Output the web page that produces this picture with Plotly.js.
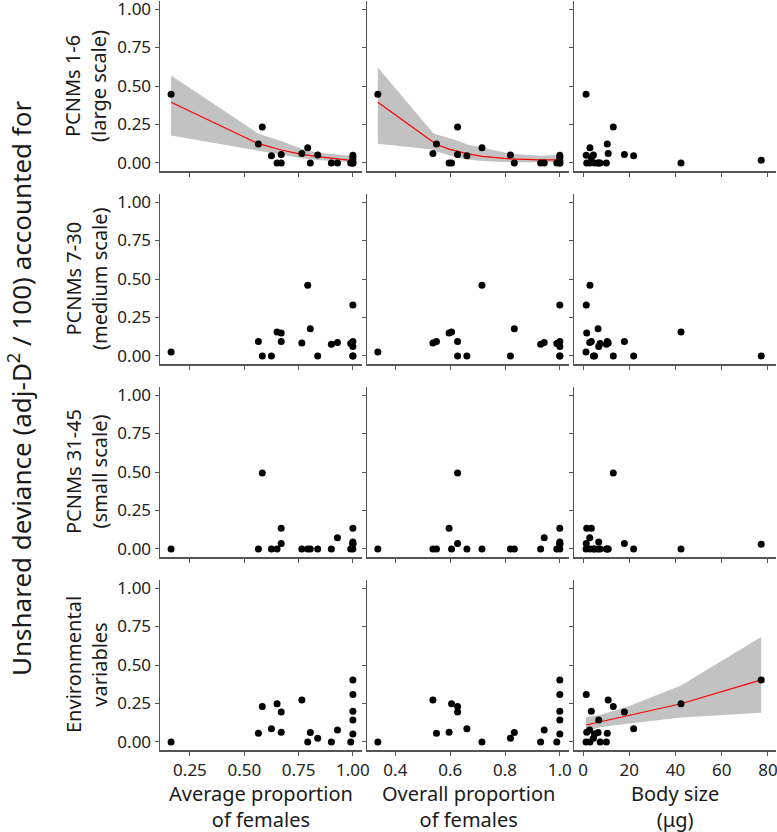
<!DOCTYPE html>
<html>
<head>
<meta charset="utf-8">
<script src="https://cdn.plot.ly/plotly-3.0.1.min.js"></script>
<style>
  html, body { margin: 0; padding: 0; background: #fff; }
  #chart { width: 777px; height: 832px; }
</style>
</head>
<body>
<div id="chart"></div>
<script>
// Per-species predictors (one entry per species, same order in every array)
const avgFemales     = [0.163, 0.765, 0.565, 0.670, 0.651, 0.583, 0.670, 0.625, 0.792, 0.838, 0.804, 0.901, 0.929, 0.990, 1.000, 1.000, 1.000, 1.000, 1.000];
const overallFemales = [0.336, 0.537, 0.550, 0.596, 0.605, 0.627, 0.627, 0.661, 0.716, 0.820, 0.834, 0.930, 0.943, 0.989, 1.000, 1.000, 1.000, 1.000, 1.000];
const bodySize       = [1.3, 10.9, 10.5, 1.6, 42.4, 13.1, 17.9, 21.9, 3.0, 4.5, 6.5, 10.1, 2.9, 7.4, 77.1, 1.4, 3.6, 6.8, 5.0];

// Unshared deviance per component (same species order)
const pcnmLarge     = [0.447, 0.062, 0.123, 0.000, 0.000, 0.234, 0.054, 0.047, 0.099, 0.052, 0.000, 0.000, 0.000, 0.000, 0.018, 0.050, 0.035, 0.000, 0.000];
const pcnmMedium    = [0.026, 0.084, 0.093, 0.149, 0.156, 0.000, 0.093, 0.000, 0.459, 0.000, 0.177, 0.076, 0.087, 0.080, 0.000, 0.331, 0.093, 0.061, 0.000];
const pcnmSmall     = [0.000, 0.000, 0.000, 0.135, 0.000, 0.493, 0.035, 0.000, 0.000, 0.000, 0.000, 0.000, 0.072, 0.000, 0.030, 0.035, 0.135, 0.045, 0.000];
const environmental = [0.000, 0.272, 0.057, 0.063, 0.248, 0.231, 0.194, 0.085, 0.000, 0.024, 0.061, 0.000, 0.078, 0.000, 0.403, 0.309, 0.200, 0.142, 0.052];

// Fitted curves with confidence bands
const fitLargeAvgX  = [0.163, 0.565, 0.670, 0.765, 0.838, 0.929, 1.000];
const fitLargeAvgY  = [0.394, 0.125, 0.084, 0.056, 0.041, 0.026, 0.015];
const fitLargeAvgLo = [0.178, 0.077, 0.052, 0.030, 0.019, 0.010, 0.004];
const fitLargeAvgHi = [0.568, 0.190, 0.142, 0.092, 0.066, 0.052, 0.045];

const fitLargeOvX  = [0.336, 0.537, 0.550, 0.596, 0.627, 0.661, 0.716, 0.820, 0.930, 1.000];
const fitLargeOvY  = [0.394, 0.131, 0.120, 0.090, 0.077, 0.060, 0.043, 0.026, 0.020, 0.020];
const fitLargeOvLo = [0.125, 0.088, 0.075, 0.050, 0.034, 0.022, 0.013, 0.005, 0.004, 0.004];
const fitLargeOvHi = [0.620, 0.196, 0.185, 0.160, 0.146, 0.120, 0.099, 0.060, 0.047, 0.052];

const fitEnvBodyX  = [1.3, 7.4, 20.0, 42.4, 77.1];
const fitEnvBodyY  = [0.110, 0.131, 0.170, 0.248, 0.403];
const fitEnvBodyLo = [0.070, 0.095, 0.120, 0.159, 0.190];
const fitEnvBodyHi = [0.160, 0.175, 0.233, 0.366, 0.682];

const rowLabels = ['PCNMs 1-6<br>(large scale)', 'PCNMs 7-30<br>(medium scale)', 'PCNMs 31-45<br>(small scale)', 'Environmental<br>variables'];
const colTitles = ['Average proportion<br>of females', 'Overall proportion<br>of females', 'Body size<br>(μg)'];
const yTicks = [0, 0.25, 0.5, 0.75, 1.0];
const xTicksAvg = [0.25, 0.5, 0.75, 1.0];
const xTicksOverall = [0.4, 0.6, 0.8, 1.0];
const xTicksBody = [0, 20, 40, 60, 80];

const W = 777, H = 832;
const colPx = [[160, 362], [367, 569], [574, 776]];
const rowPx = [[1, 171], [194, 364], [387, 557], [580, 750]];
const colRange = [[0.112, 1.042], [0.2965, 1.0335], [-3.9, 83.5]];
const colTicks = [xTicksAvg, xTicksOverall, xTicksBody];
const colFormat = ['.2f', '.1f', 'd'];
const predictors = [avgFemales, overallFemales, bodySize];
const responses = [pcnmLarge, pcnmMedium, pcnmSmall, environmental];

const FONT = 'Noto Sans, DejaVu Sans, sans-serif';
const AXIS_COL = '#555555';
const TEXT_COL = '#1a1a1a';

function axId(r, c) { const n = r * 3 + c + 1; return n === 1 ? '' : String(n); }

const traces = [];
const layout = {
  width: W, height: H,
  margin: {l: 0, r: 0, t: 0, b: 0},
  paper_bgcolor: '#ffffff', plot_bgcolor: '#ffffff',
  showlegend: false,
  font: {family: FONT, size: 17, color: '#222222'},
  annotations: []
};

function addFit(r, c, xs, ys, lo, hi) {
  const id = axId(r, c);
  const xa = 'x' + id, ya = 'y' + id;
  traces.push({x: xs, y: lo, xaxis: xa, yaxis: ya, type: 'scatter', mode: 'lines',
               line: {width: 0, color: 'rgba(0,0,0,0)'}, hoverinfo: 'skip'});
  traces.push({x: xs, y: hi, xaxis: xa, yaxis: ya, type: 'scatter', mode: 'lines',
               fill: 'tonexty', fillcolor: '#c2c2c2', line: {width: 0, color: 'rgba(0,0,0,0)'}, hoverinfo: 'skip'});
  traces.push({x: xs, y: ys, xaxis: xa, yaxis: ya, type: 'scatter', mode: 'lines',
               line: {width: 1.2, color: '#ff0000'}, hoverinfo: 'skip'});
}

addFit(0, 0, fitLargeAvgX, fitLargeAvgY, fitLargeAvgLo, fitLargeAvgHi);
addFit(0, 1, fitLargeOvX, fitLargeOvY, fitLargeOvLo, fitLargeOvHi);
addFit(3, 2, fitEnvBodyX, fitEnvBodyY, fitEnvBodyLo, fitEnvBodyHi);

for (let r = 0; r < 4; r++) {
  for (let c = 0; c < 3; c++) {
    const id = axId(r, c);
    traces.push({
      x: predictors[c], y: responses[r], xaxis: 'x' + id, yaxis: 'y' + id,
      type: 'scatter', mode: 'markers', cliponaxis: false,
      marker: {size: 7, color: '#000000'}
    });
    const x0 = colPx[c][0] / W, x1 = colPx[c][1] / W;
    const y0 = 1 - rowPx[r][1] / H, y1 = 1 - rowPx[r][0] / H;
    layout['xaxis' + id] = {
      domain: [x0, x1], range: colRange[c], anchor: 'y' + id,
      showline: true, linecolor: AXIS_COL, linewidth: 1.5,
      ticks: 'outside', ticklen: 4, tickwidth: 1, tickcolor: AXIS_COL,
      tickvals: colTicks[c], tickformat: colFormat[c],
      showticklabels: r === 3, showgrid: false, zeroline: false,
      ticklabeloverflow: 'allow',
      tickfont: {family: FONT, size: 17, color: '#222222'}
    };
    layout['yaxis' + id] = {
      domain: [y0, y1], range: [-0.0525, 1.0525], anchor: 'x' + id,
      showline: true, linecolor: AXIS_COL, linewidth: 1.5,
      ticks: 'outside', ticklen: 4, tickwidth: 1, tickcolor: AXIS_COL,
      tickvals: yTicks, tickformat: '.2f',
      showticklabels: c === 0, showgrid: false, zeroline: false,
      ticklabeloverflow: 'allow',
      tickfont: {family: FONT, size: 17, color: '#222222'}
    };
  }
}

// Column titles under the bottom row
colTitles.forEach((t, c) => {
  layout.annotations.push({
    text: t, xref: 'paper', yref: 'paper',
    x: (colPx[c][0] + colPx[c][1]) / 2 / W, y: 1 - 806 / H,
    xanchor: 'center', yanchor: 'middle', showarrow: false,
    font: {family: FONT, size: 20, color: TEXT_COL}
  });
});

// Row labels on the left
rowLabels.forEach((t, r) => {
  layout.annotations.push({
    text: t, xref: 'paper', yref: 'paper',
    x: 86 / W, y: 1 - (rowPx[r][0] + rowPx[r][1]) / 2 / H,
    xanchor: 'center', yanchor: 'middle', textangle: -90, showarrow: false,
    font: {family: FONT, size: 20, color: TEXT_COL}
  });
});

// Shared y-axis title
layout.annotations.push({
  text: 'Unshared deviance (adj-D<sup>2</sup> / 100) accounted for',
  xref: 'paper', yref: 'paper', x: 20 / W, y: 1 - 388 / H,
  xanchor: 'center', yanchor: 'middle', textangle: -90, showarrow: false,
  font: {family: FONT, size: 26, color: TEXT_COL}
});

Plotly.newPlot('chart', traces, layout, {staticPlot: true, displayModeBar: false});
</script>
</body>
</html>
